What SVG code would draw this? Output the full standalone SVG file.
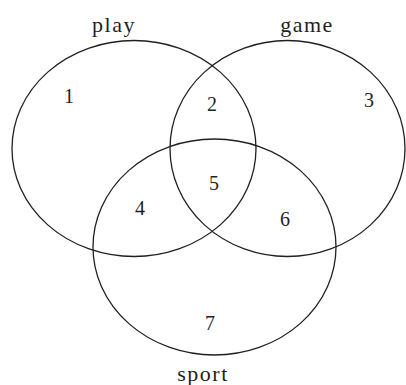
<svg xmlns="http://www.w3.org/2000/svg" width="406" height="385" viewBox="0 0 406 385">
<style>
.set{fill:none;stroke:#231f20;stroke-width:1.3}
.lbl{font-family:"Liberation Serif","Times New Roman",serif;font-size:22px;letter-spacing:1.5px;fill:#231f20;text-anchor:middle}
.num{font-family:"Liberation Serif","Times New Roman",serif;font-size:20px;fill:#231f20;text-anchor:middle}
</style>
<rect width="406" height="385" fill="#fff"/>
<g id="play">
<ellipse class="set" cx="134" cy="148.5" rx="122" ry="108"/>
<text class="lbl" x="114" y="32">play</text>
</g>
<g id="game">
<ellipse class="set" cx="287.5" cy="148.5" rx="117.5" ry="108"/>
<text class="lbl" x="307" y="32">game</text>
</g>
<g id="sport">
<ellipse class="set" cx="214.5" cy="247" rx="121.5" ry="108"/>
<text class="lbl" x="203" y="381">sport</text>
</g>
<g id="regions">
<text class="num" x="69" y="103">1</text>
<text class="num" x="212" y="111">2</text>
<text class="num" x="369" y="107">3</text>
<text class="num" x="140" y="215">4</text>
<text class="num" x="214" y="190">5</text>
<text class="num" x="285" y="226">6</text>
<text class="num" x="210" y="330">7</text>
</g>
<g id="connectors"></g>
</svg>
